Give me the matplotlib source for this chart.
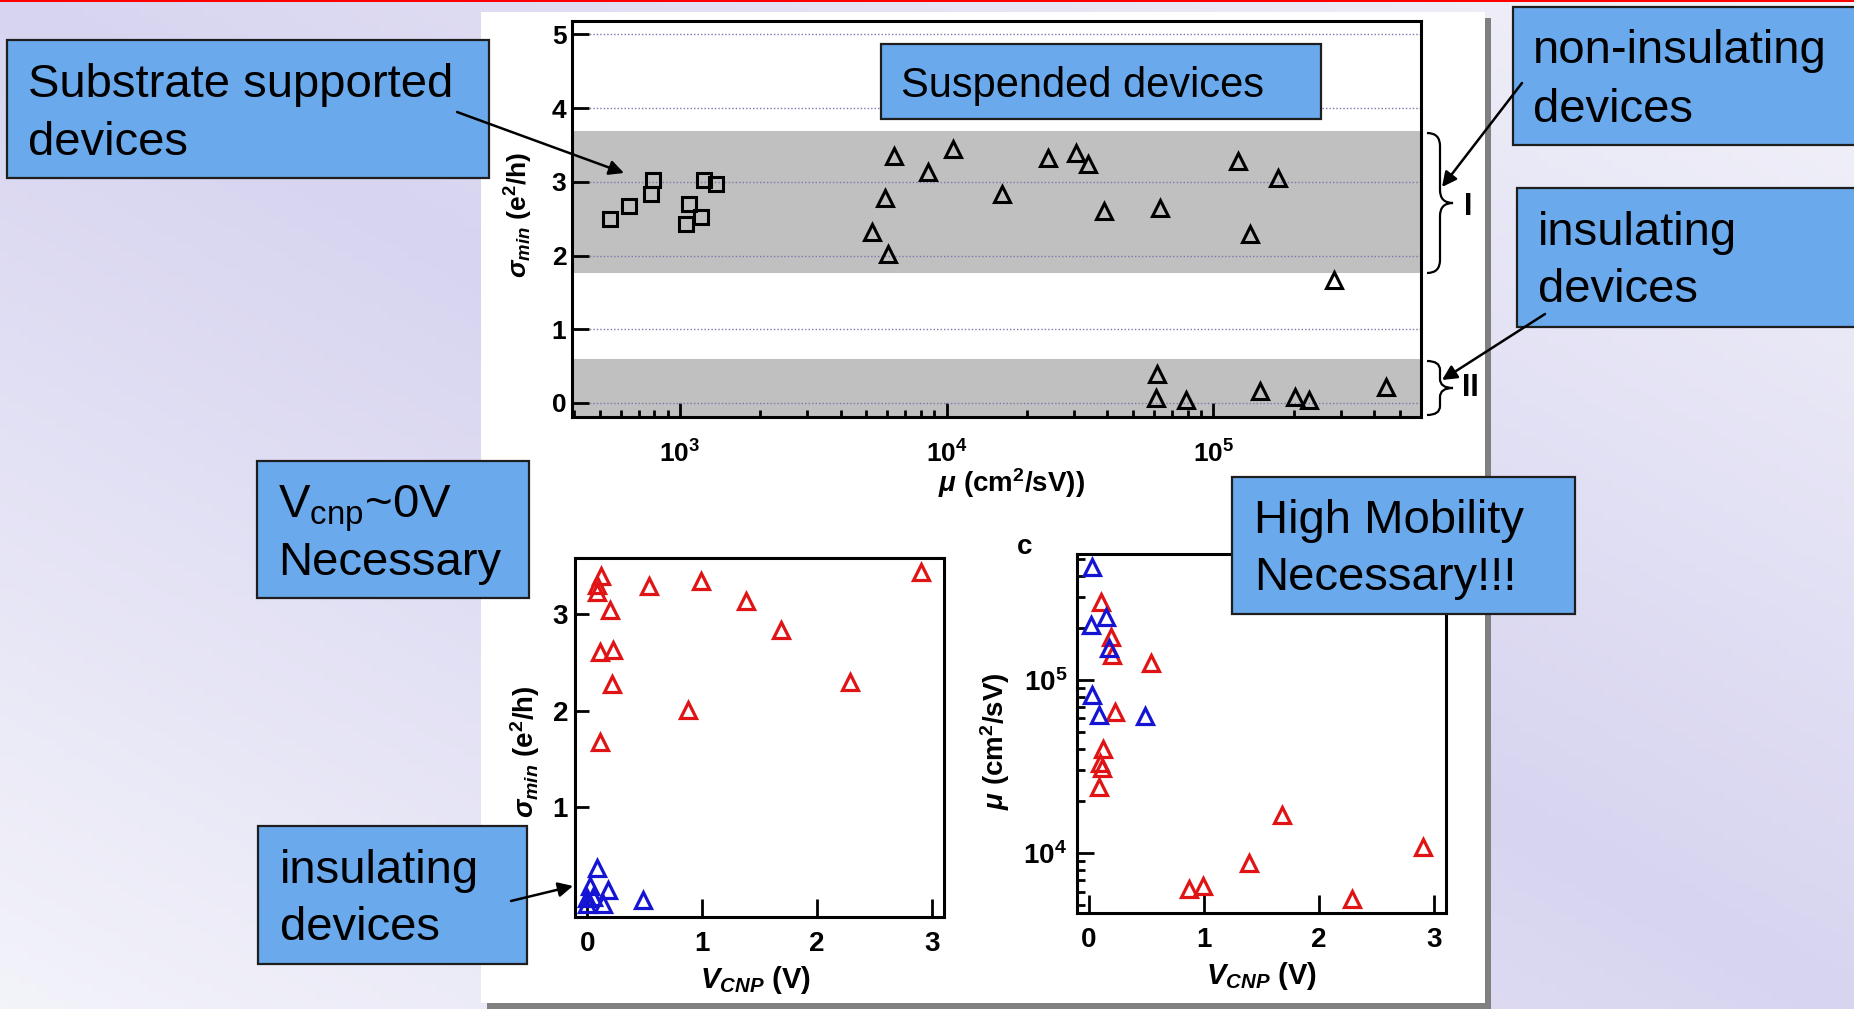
import numpy as np
import matplotlib.pyplot as plt
from matplotlib import ticker
from matplotlib.patches import Rectangle, PathPatch
from matplotlib.path import Path

plt.rcParams['font.family'] = ['Liberation Sans', 'DejaVu Sans']
plt.rcParams['font.weight'] = 'bold'
plt.rcParams['mathtext.fontset'] = 'custom'
plt.rcParams['mathtext.rm'] = 'Liberation Sans:weight=normal'
plt.rcParams['mathtext.it'] = 'Liberation Sans:italic:weight=normal'
plt.rcParams['mathtext.bf'] = 'Liberation Sans:bold'
plt.rcParams['mathtext.bfit'] = 'Liberation Sans:italic:bold'

# top panel: sigma_min vs mobility
sub_mu = [546, 644, 778, 790, 1053, 1081, 1199, 1230, 1365]
sub_sigma = [2.49, 2.67, 2.84, 3.02, 2.43, 2.70, 2.52, 3.03, 2.97]
susp_mu = [5270, 5860, 6050, 6350, 8530, 10540, 16130, 24030, 30600, 33800, 39000,
           63200, 61500, 60700, 78900, 124000, 137000, 150000, 174000, 203000,
           228000, 282000, 442000]
susp_sigma = [2.32, 2.78, 2.02, 3.35, 3.13, 3.45, 2.84, 3.32, 3.39, 3.24, 2.60,
              2.64, 0.39, 0.07, 0.04, 3.28, 2.29, 0.16, 3.05, 0.08, 0.04, 1.67, 0.22]
band_I = (1.76, 3.69)
band_II = (-0.19, 0.59)

# bottom left: sigma_min vs V_CNP
b_red_v = [2.907, 0.116, 0.081, 0.081, 0.537, 0.988, 0.198, 1.385, 1.687,
           0.110, 0.227, 0.212, 2.286, 0.877, 0.110]
b_red_sigma = [3.44, 3.39, 3.30, 3.23, 3.29, 3.34, 3.04, 3.13, 2.83,
               2.61, 2.63, 2.28, 2.30, 2.01, 1.67]
b_blue_v = [0.087, 0.023, 0.177, 0.0, 0.052, 0.139, 0.0, 0.485]
b_blue_sigma = [0.37, 0.18, 0.14, 0.06, 0.07, 0.0, 0.0, 0.04]

# bottom right: mobility vs V_CNP
c_red_v = [0.108, 0.195, 0.203, 0.535, 0.224, 0.122, 0.093, 0.116, 0.087,
           0.872, 0.988, 1.390, 1.683, 2.291, 2.907]
c_red_mu = [2.83e5, 1.78e5, 1.39e5, 1.25e5, 6.49e4, 3.98e4, 3.31e4, 3.09e4, 2.42e4,
            6190, 6480, 8750, 16600, 5430, 10800]
c_blue_v = [0.023, 0.020, 0.145, 0.174, 0.023, 0.087, 0.485]
c_blue_mu = [4.47e5, 2.07e5, 2.32e5, 1.52e5, 8.19e4, 6.28e4, 6.2e4]

W, H = 1854, 1009
RED = '#e01414'
BLUE = '#1414d2'
BOX_BLUE = '#6aa9ec'

fig = plt.figure(figsize=(W / 100, H / 100), dpi=100)

# slide background
bg = fig.add_axes([0, 0, 1, 1], zorder=0)
bg.set_xlim(0, W)
bg.set_ylim(H, 0)
bg.axis('off')
yy, xx = np.mgrid[0:1:120j, 0:1:200j]
t = np.abs(xx - yy)[..., None]
dark = np.array([215, 212, 240]) / 255
light = np.array([243, 243, 250]) / 255
bg.imshow(dark + (light - dark) * t, extent=(0, W, H, 0), aspect='auto')
bg.add_patch(Rectangle((0, 0), W, 2, color='red', lw=0))
bg.add_patch(Rectangle((1485, 18), 6, 991, color='#808080', lw=0))
bg.add_patch(Rectangle((487, 1003), 1004, 6, color='#808080', lw=0))
bg.add_patch(Rectangle((481, 12), 1004, 991, color='white', lw=0))


def style(ax, fs):
    for s in ax.spines.values():
        s.set_linewidth(2.2)
    ax.tick_params(which='both', direction='in', width=2, top=False, right=False,
                   labelsize=fs)


def pow10(v, p):
    return r'$\mathbf{10^{%d}}$' % round(np.log10(v))


# top axes
ax1 = fig.add_axes([572 / W, 1 - 417 / H, 849 / W, 396 / H], zorder=1)
ax1.set_xscale('log')
ax1.axhspan(*band_I, color='#c0c0c0', lw=0)
ax1.axhspan(*band_II, color='#c0c0c0', lw=0)
ax1.plot(sub_mu, sub_sigma, 's', ms=10.5, mfc='none', mec='k', mew=2.2)
ax1.plot(susp_mu, susp_sigma, '^', ms=11, mfc='none', mec='k', mew=2.2)
ax1.set_xlim(394, 6.0e5)
ax1.set_ylim(-0.19, 5.18)
ax1.set_yticks(range(6))
ax1.yaxis.grid(True, color='#7878b0', lw=1, ls=(0, (1, 1.5)))
ax1.xaxis.set_major_locator(ticker.FixedLocator([1e3, 1e4, 1e5]))
ax1.xaxis.set_major_formatter(ticker.FuncFormatter(pow10))
ax1.xaxis.set_minor_locator(ticker.LogLocator(subs=np.arange(2, 10)))
ax1.xaxis.set_minor_formatter(ticker.NullFormatter())
style(ax1, 19)
ax1.tick_params(axis='y', length=12, pad=4)
ax1.tick_params(axis='x', which='major', length=10, pad=17, labelsize=19)
ax1.tick_params(axis='x', which='minor', length=5)
ax1.set_xlabel(r'$\mathbfit{\mu}\ \mathbf{(cm^{2}/sV))}$', fontsize=20)
ax1.set_ylabel(r'$\mathbfit{\sigma_{min}}\ \mathbf{(e^{2}/h)}$', fontsize=19)
ax1.xaxis.set_label_coords(0.518, -0.125)
ax1.yaxis.set_label_coords(-0.043, 0.51)

# bottom left axes
ax2 = fig.add_axes([575 / W, 1 - 917 / H, 369 / W, 359 / H], zorder=1)
ax2.plot(b_red_v, b_red_sigma, '^', ms=12, mfc='none', mec=RED, mew=2.3)
ax2.plot(b_blue_v, b_blue_sigma, '^', ms=12, mfc='none', mec=BLUE, mew=2.3)
ax2.set_xlim(-0.107, 3.107)
ax2.set_ylim(-0.137, 3.58)
ax2.set_xticks([0, 1, 2, 3])
ax2.set_yticks([1, 2, 3])
style(ax2, 20)
ax2.tick_params(axis='y', length=10, pad=5)
ax2.tick_params(axis='x', length=13, pad=10)
ax2.set_xlabel(r'$\mathbfit{V_{CNP}}\ \mathbf{(V)}$', fontsize=21)
ax2.set_ylabel(r'$\mathbfit{\sigma_{min}}\ \mathbf{(e^{2}/h)}$', fontsize=20)
ax2.xaxis.set_label_coords(0.49, -0.13)
ax2.yaxis.set_label_coords(-0.09, 0.46)

# bottom right axes
ax3 = fig.add_axes([1077 / W, 1 - 913 / H, 369 / W, 359 / H], zorder=1)
ax3.set_yscale('log')
ax3.plot(c_red_v, c_red_mu, '^', ms=12, mfc='none', mec=RED, mew=2.3)
ax3.plot(c_blue_v, c_blue_mu, '^', ms=12, mfc='none', mec=BLUE, mew=2.3)
ax3.set_xlim(-0.105, 3.107)
ax3.set_ylim(4510, 5.33e5)
ax3.set_xticks([0, 1, 2, 3])
ax3.yaxis.set_major_locator(ticker.FixedLocator([1e4, 1e5]))
ax3.yaxis.set_major_formatter(ticker.FuncFormatter(pow10))
ax3.yaxis.set_minor_locator(ticker.LogLocator(subs=np.arange(2, 10)))
ax3.yaxis.set_minor_formatter(ticker.NullFormatter())
style(ax3, 20)
ax3.tick_params(axis='y', which='major', length=12, pad=7)
ax3.tick_params(axis='y', which='minor', length=6)
ax3.tick_params(axis='x', length=13, pad=10)
ax3.set_xlabel(r'$\mathbfit{V_{CNP}}\ \mathbf{(V)}$', fontsize=21)
ax3.set_ylabel(r'$\mathbfit{\mu}\ \mathbf{(cm^{2}/sV)}$', fontsize=20)
ax3.xaxis.set_label_coords(0.5, -0.13)
ax3.yaxis.set_label_coords(-0.175, 0.48)

# overlay: call-out boxes, arrows, braces
ov = fig.add_axes([0, 0, 1, 1], zorder=5)
ov.set_xlim(0, W)
ov.set_ylim(H, 0)
ov.axis('off')
ov.patch.set_alpha(0)


def box(x0, y0, x1, y1, lines, xt, baselines, size):
    ov.add_patch(Rectangle((x0, y0), x1 - x0, y1 - y0, fc=BOX_BLUE,
                           ec='#1e1e1e', lw=1.6))
    for line, yb in zip(lines, baselines):
        ov.text(xt, yb, line, fontsize=size, fontweight='normal',
                va='baseline', ha='left', color='black')


def arrow(x0, y0, x1, y1):
    ov.annotate('', xy=(x1, y1), xytext=(x0, y0),
                arrowprops=dict(arrowstyle='-|>', color='black', lw=1.8,
                                mutation_scale=22, shrinkA=0, shrinkB=0))


def brace(x0, y0, y1, w):
    ym = (y0 + y1) / 2
    q = min(w / 2, (ym - y0) / 3)
    xm = x0 + w / 2
    verts = [(x0, y0), (xm, y0), (xm, y0 + q), (xm, ym - q), (xm, ym), (x0 + w, ym),
             (xm, ym), (xm, ym + q), (xm, y1 - q), (xm, y1), (x0, y1)]
    codes = [Path.MOVETO, Path.CURVE3, Path.CURVE3, Path.LINETO, Path.CURVE3,
             Path.CURVE3, Path.CURVE3, Path.CURVE3, Path.LINETO, Path.CURVE3,
             Path.CURVE3]
    ov.add_patch(PathPatch(Path(verts, codes), fc='none', ec='black', lw=1.6))


box(7, 40, 489, 178, ['Substrate supported', 'devices'], 28, [97, 155], 34)
box(881, 44, 1321, 119, ['Suspended devices'], 901, [97], 30)
box(1513, 7, 1870, 145, ['non-insulating', 'devices'], 1533, [63, 122], 34)
box(1517, 188, 1870, 327, ['insulating', 'devices'], 1538, [245, 302], 34)
box(257, 461, 529, 598, [r'V$_{\mathrm{cnp}}$~0V', 'Necessary'], 278, [517, 575], 34)
box(258, 826, 527, 964, ['insulating', 'devices'], 280, [883, 940], 34)
box(1232, 477, 1575, 614, ['High Mobility', 'Necessary!!!'], 1254, [533, 590], 34)

arrow(457, 112, 624, 173)
arrow(1522, 83, 1442, 187)
arrow(1545, 314, 1442, 380)
arrow(511, 901, 573, 886)

brace(1427, 133, 273, 26)
brace(1427, 361, 415, 26)
ov.text(1468, 207, 'I', fontsize=22, ha='center', va='center')
ov.text(1470, 388, 'II', fontsize=22, ha='center', va='center')
ov.text(1025, 547, 'c', fontsize=20, ha='center', va='center')

fig.savefig('out.png', dpi=100)
